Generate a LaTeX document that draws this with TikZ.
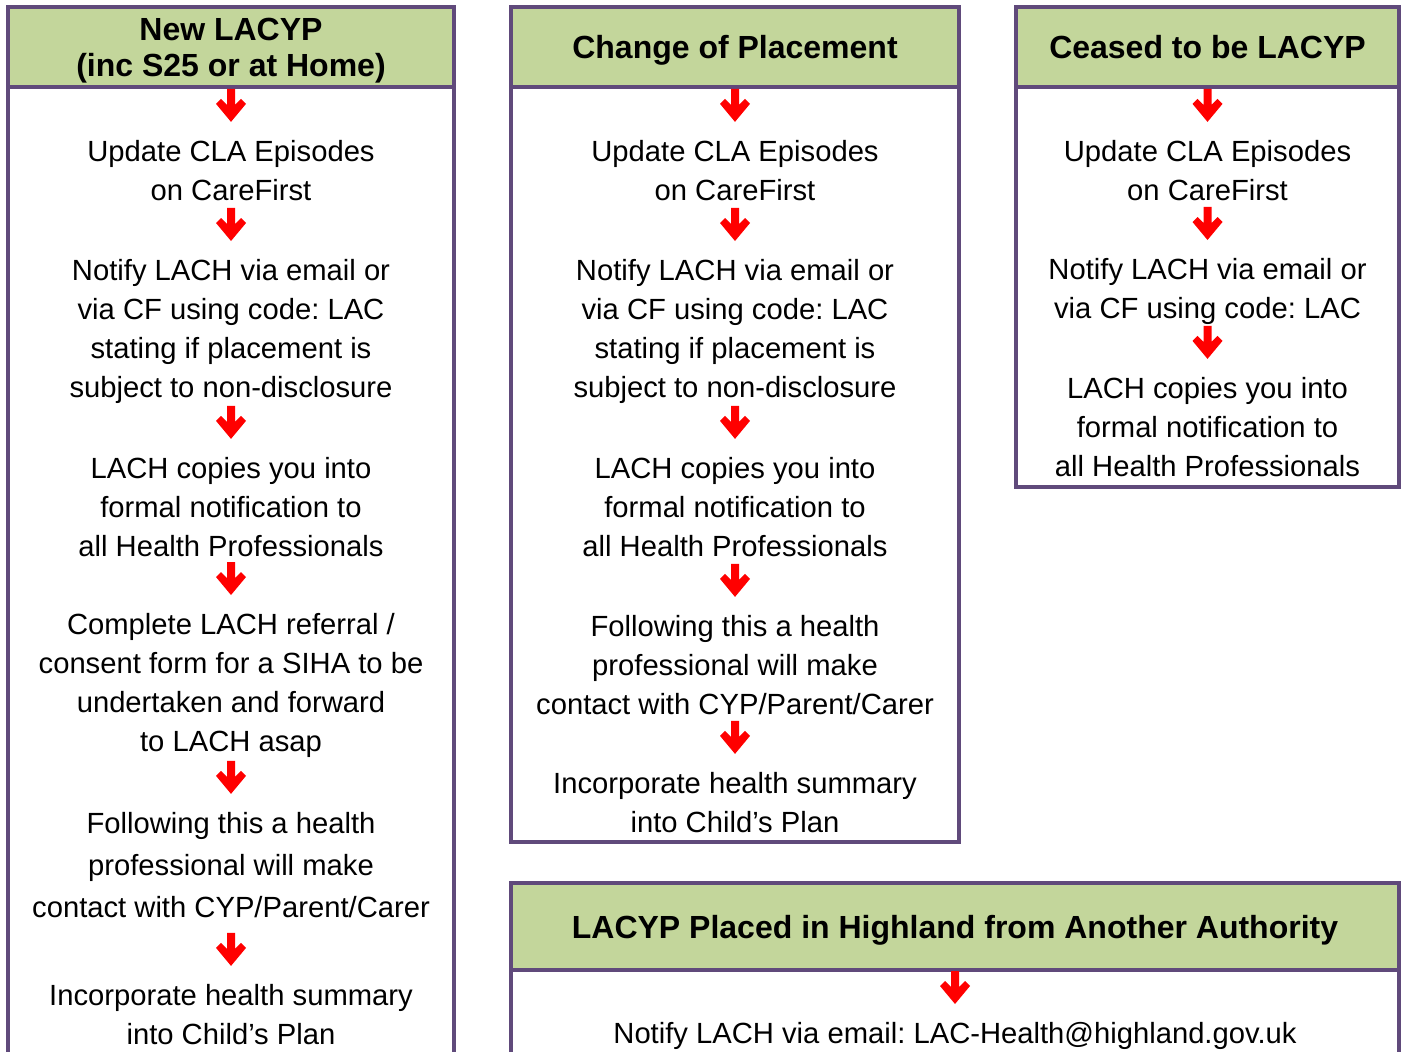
\documentclass[tikz,border=0pt]{standalone}
\usepackage{fontspec}
\setmainfont{Liberation Sans}
\frenchspacing
\usetikzlibrary{positioning,calc}
\definecolor{boxpurple}{RGB}{96,74,123}
\definecolor{headgreen}{RGB}{195,214,155}
\tikzset{
  panel/.style={draw=boxpurple,line width=1.6pt},
  header/.style={panel,fill=headgreen,align=center,inner sep=0pt,text depth=0pt,
    font=\fontsize{16}{18}\selectfont\bfseries},
  steptext/.style={align=center,inner sep=0pt,
    font=\fontsize{14.6}{19.5}\selectfont},
  downarrow/.pic={
    \fill[red] (-4,-17) -- (-4,-1) -- (-10,-7) -- (-15,-2) -- (0,16)
      -- (15,-2) -- (10,-7) -- (4,-1) -- (4,-17) -- cycle;
  }
}
\begin{document}
\begin{tikzpicture}[x=0.5pt,y=-0.5pt]
\useasboundingbox (0,0) rectangle (1402,1051);
\clip (0,0) rectangle (1402,1051);
%panels
\draw[panel] (8,7) rectangle (454,1090);
\draw[panel] (511,7) rectangle (959,842);
\draw[panel] (1016,7) rectangle (1399,487);
\draw[panel] (511,883) rectangle (1399,1090);
%new LACYP
\node[header,minimum width=223pt,minimum height=40pt] (h1) at (231,47) {New LACYP\\(inc S25 or at Home)};
\node[steptext] (u1) at (231,170.5) {Update CLA Episodes\\on CareFirst};
\node[steptext] (n1) at (231,331.5) {Notify LACH via email or\\via CF using code: LAC\\stating if placement is\\subject to non-disclosure};
\node[steptext] (l1) at (231,507) {LACH copies you into\\formal notification to\\all Health Professionals};
\node[steptext] (c1) at (231,685.5) {Complete LACH referral /\\consent form for a SIHA to be\\undertaken and forward\\to LACH asap};
\node[steptext,font=\fontsize{14.6}{21}\selectfont] (f1) at (231,865) {Following this a health\\professional will make\\contact with CYP/Parent/Carer};
\node[steptext] (i1) at (231,1014.5) {Incorporate health summary\\into Child’s Plan};
%change of placement
\node[header,minimum width=224pt,minimum height=40pt] (h2) at (735,47) {Change of Placement};
\node[steptext] (u2) at (735,170.5) {Update CLA Episodes\\on CareFirst};
\node[steptext] (n2) at (735,331.5) {Notify LACH via email or\\via CF using code: LAC\\stating if placement is\\subject to non-disclosure};
\node[steptext] (l2) at (735,507) {LACH copies you into\\formal notification to\\all Health Professionals};
\node[steptext] (f2) at (735,665) {Following this a health\\professional will make\\contact with CYP/Parent/Carer};
\node[steptext] (i2) at (735,802.5) {Incorporate health summary\\into Child’s Plan};
%ceased
\node[header,minimum width=191.5pt,minimum height=40pt] (h3) at (1207.5,47) {Ceased to be LACYP};
\node[steptext] (u3) at (1207.5,170.5) {Update CLA Episodes\\on CareFirst};
\node[steptext] (n3) at (1207.5,291.5) {Notify LACH via email or\\via CF using code: LAC};
\node[steptext] (l3) at (1207.5,427) {LACH copies you into\\formal notification to\\all Health Professionals};
%another authority
\node[header,minimum width=444pt,minimum height=43.5pt] (h4) at (955,926.5) {LACYP Placed in Highland from Another Authority};
\node[steptext] (n4) at (955,1036) {Notify LACH via email: LAC-Health@highland.gov.uk};
%arrows
\foreach \a/\b in {h1/u1,u1/n1,n1/l1,l1/c1,c1/f1,f1/i1,h2/u2,u2/n2,n2/l2,l2/f2,f2/i2,
                   h3/u3,u3/n3,n3/l3,h4/n4}{
  \pic at ($(\b.north)+(0,-34)$) {downarrow};
}
\end{tikzpicture}
\end{document}
